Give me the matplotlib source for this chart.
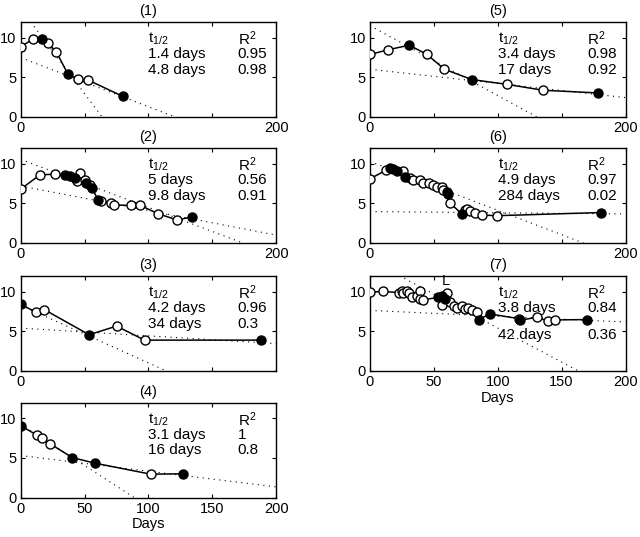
import matplotlib
matplotlib.use("Agg")
import matplotlib.pyplot as plt
import numpy as np

plt.rcParams['font.family'] = ['Liberation Sans', 'DejaVu Sans']
plt.rcParams['font.size'] = 10
plt.rcParams['mathtext.default'] = 'regular'

# ---------------- data ----------------
# panel 1
p1_days = [0, 9.4, 16.4, 21, 28, 37, 45, 53, 80]
p1_vals = [8.9, 9.8, 9.9, 9.4, 8.2, 5.4, 4.8, 4.65, 2.6]
p1_fill = [0, 0, 1, 0, 0, 1, 0, 0, 1]
p1_fit = [(13.7, -0.215), (7.5, -0.062)]
p1_t = ["1.4 days", "4.8 days"]
p1_r2 = ["0.95", "0.98"]

# panel 2
p2_days = [0, 15, 26.8, 34.6, 38.5, 42.4, 43.7, 46.3, 50.2, 51.5, 54, 55.5,
           60.6, 63, 71, 73, 86, 93.5, 107.5, 122.5, 134]
p2_vals = [6.8, 8.6, 8.7, 8.6, 8.45, 8.2, 7.8, 8.8, 8.0, 7.55, 7.3, 7.0,
           5.45, 5.35, 5.0, 4.8, 4.75, 4.75, 3.7, 2.9, 3.3]
p2_fill = [0, 0, 0, 1, 1, 1, 0, 0, 0, 1, 0, 1,
           1, 0, 0, 0, 0, 0, 0, 0, 1]
p2_fit = [(10.56, -0.0607), (7.2, -0.031)]
p2_t = ["5 days", "9.8 days"]
p2_r2 = ["0.56", "0.91"]

# panel 3
p3_days = [0, 12, 18.5, 53.6, 75, 97, 188]
p3_vals = [8.46, 7.4, 7.75, 4.58, 5.67, 3.9, 3.9]
p3_fill = [1, 0, 0, 1, 0, 0, 1]
p3_fit = [(8.3, -0.0727), (5.42, -0.0098)]
p3_t = ["4.2 days", "34 days"]
p3_r2 = ["0.96", "0.3"]

# panel 4
p4_days = [0, 12.4, 16.3, 23.3, 40.4, 58.3, 102, 127]
p4_vals = [9.08, 7.9, 7.5, 6.76, 5.04, 4.33, 2.94, 3.0]
p4_fill = [1, 0, 0, 0, 1, 1, 0, 1]
p4_fit = [(9.24, -0.104), (5.3, -0.0198)]
p4_t = ["3.1 days", "16 days"]
p4_r2 = ["1", "0.8"]

# panel 5
p5_days = [0, 14.4, 30.6, 44.4, 58.3, 79.7, 107, 135.4, 178.3]
p5_vals = [7.9, 8.5, 9.07, 7.93, 6.03, 4.73, 4.13, 3.38, 3.04]
p5_fill = [0, 0, 1, 0, 0, 1, 0, 0, 1]
p5_fit = [(11.54, -0.0883), (6.03, -0.0179)]
p5_t = ["3.4 days", "17 days"]
p5_r2 = ["0.98", "0.92"]

# panel 6
p6_days = [0, 12.5, 15.7, 18.3, 20.9, 26, 27.5, 31.4, 34, 39, 41.8, 45.8,
           49.7, 52.3, 56, 57.5, 60.1, 61.4, 62.7, 71.9, 74.5, 75.8, 78.4,
           82.4, 87.6, 99.3, 181]
p6_vals = [8.1, 9.2, 9.5, 9.3, 9.05, 9.05, 8.4, 8.2, 8.0, 8.0, 7.55, 7.55,
           7.33, 7.1, 7.1, 6.7, 6.47, 6.2, 5.05, 3.66, 4.22, 4.31, 4.09,
           3.79, 3.53, 3.45, 3.85]
p6_fill = [0, 0, 1, 1, 1, 0, 1, 0, 0, 0, 0, 0,
           0, 0, 0, 0, 1, 1, 0, 1, 0, 0, 0,
           0, 0, 0, 1]
p6_fit = [(10.3, -0.0617), (3.97, -0.0015)]
p6_t = ["4.9 days", "284 days"]
p6_r2 = ["0.97", "0.02"]

# panel 7
p7_days = [0, 10, 23, 25, 26, 28.8, 30.9, 32.7, 36.6, 39.2, 39.2, 41.8,
           53.6, 56.2, 58.8, 60.1, 56.2, 62.7, 65.4, 68, 72, 74.5, 77.1,
           79.7, 83.6, 85, 94, 117, 117.5, 130.7, 139, 145, 170]
p7_vals = [9.95, 10.05, 9.9, 10.1, 9.8, 10.1, 9.9, 9.3, 9.5, 10.1, 9.1, 9.0,
           9.3, 9.5, 9.1, 9.9, 8.4, 8.7, 8.2, 8.0, 8.2, 7.8, 8.0,
           7.7, 7.4, 6.5, 7.2, 6.6, 6.4, 6.8, 6.3, 6.45, 6.5]
p7_fill = [0, 0, 0, 0, 0, 0, 0, 0, 0, 0, 0, 0,
           1, 1, 1, 0, 0, 0, 0, 0, 0, 0, 0,
           0, 0, 1, 1, 0, 1, 0, 0, 0, 1]
p7_fit = [(14.0, -0.0858), (7.65, -0.0073)]
p7_t = ["3.8 days", "42 days"]
p7_r2 = ["0.84", "0.36"]

x_ticks = [0, 50, 100, 150, 200]
y_ticks = [0, 5, 10]

# ---------------- layout ----------------
W, H = 640, 537
fig = plt.figure(figsize=(W / 100, H / 100), dpi=100)

def rect(left, top, width=255.5, height=95):
    return [left / W, 1 - (top + height) / H, width / W, height / H]

panels = [
    dict(title="(1)", d=p1_days, v=p1_vals, f=p1_fill, fit=p1_fit, t=p1_t, r=p1_r2,
         rect=rect(20.7, 22), xl=['0', '', '', '', '200'], xlabel=None),
    dict(title="(2)", d=p2_days, v=p2_vals, f=p2_fill, fit=p2_fit, t=p2_t, r=p2_r2,
         rect=rect(20.7, 148), xl=['0', '', '', '', '200'], xlabel=None),
    dict(title="(3)", d=p3_days, v=p3_vals, f=p3_fill, fit=p3_fit, t=p3_t, r=p3_r2,
         rect=rect(20.7, 276), xl=['0', '', '', '', ''], xlabel=None),
    dict(title="(4)", d=p4_days, v=p4_vals, f=p4_fill, fit=p4_fit, t=p4_t, r=p4_r2,
         rect=rect(20.7, 402.5), xl=[str(x) for x in x_ticks], xlabel="Days"),
    dict(title="(5)", d=p5_days, v=p5_vals, f=p5_fill, fit=p5_fit, t=p5_t, r=p5_r2,
         rect=rect(370, 22), xl=['0', '', '', '', '200'], xlabel=None),
    dict(title="(6)", d=p6_days, v=p6_vals, f=p6_fill, fit=p6_fit, t=p6_t, r=p6_r2,
         rect=rect(370, 148), xl=['0', '', '', '', '200'], xlabel=None),
    dict(title="(7)", d=p7_days, v=p7_vals, f=p7_fill, fit=p7_fit, t=p7_t, r=p7_r2,
         rect=rect(370, 276), xl=[str(x) for x in x_ticks], xlabel="Days"),
]

xx = np.linspace(0, 200, 400)
for i, p in enumerate(panels):
    ax = fig.add_axes(p["rect"])
    ax.set_xlim(0, 200)
    ax.set_ylim(0, 12)
    # fit lines
    for a, b in p["fit"]:
        ax.plot(xx, a + b * xx, linestyle=(0, (1, 4)), color='black', lw=0.8, zorder=1)
    d = np.array(p["d"]); v = np.array(p["v"]); f = np.array(p["f"], dtype=bool)
    ax.plot(d, v, '-', color='black', lw=1.1, zorder=2)
    ax.plot(d[~f], v[~f], 'o', ms=6.5, mfc='white', mec='black', mew=1.0, zorder=3)
    ax.plot(d[f], v[f], 'o', ms=6.5, mfc='black', mec='black', mew=1.0, zorder=4)
    ax.set_xticks(x_ticks)
    ax.set_xticklabels(p["xl"])
    ax.set_yticks(y_ticks)
    ax.tick_params(direction='in', length=3, top=True, right=True, labelsize=10.5, pad=3)
    for s in ax.spines.values():
        s.set_linewidth(1.0)
    ax.set_title(p["title"], fontsize=10.5, pad=5)
    if p["xlabel"]:
        ax.set_xlabel(p["xlabel"], fontsize=10.5, labelpad=1)
    if i == 6:
        rows = [0.82, 0.667, 0.376]
        ax.text(59, 11.4, 'L', ha='center', va='center', fontsize=10.5)
    else:
        rows = [0.82, 0.66, 0.495]
    ax.text(0.5, rows[0], r'$t_{1/2}$', transform=ax.transAxes, ha='left', va='center', fontsize=11)
    ax.text(0.5, rows[1], p["t"][0], transform=ax.transAxes, ha='left', va='center', fontsize=11)
    ax.text(0.5, rows[2], p["t"][1], transform=ax.transAxes, ha='left', va='center', fontsize=11)
    ax.text(0.85, rows[0], r'$R^2$', transform=ax.transAxes, ha='left', va='center', fontsize=11)
    ax.text(0.85, rows[1], p["r"][0], transform=ax.transAxes, ha='left', va='center', fontsize=11)
    ax.text(0.85, rows[2], p["r"][1], transform=ax.transAxes, ha='left', va='center', fontsize=11)

fig.savefig("out.png", dpi=100)
